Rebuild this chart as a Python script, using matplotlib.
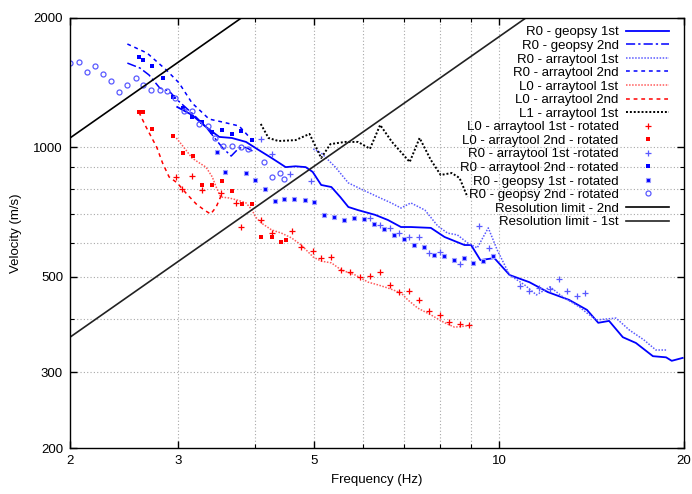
import matplotlib
matplotlib.use("Agg")
import matplotlib.pyplot as plt
import numpy as np

plt.rcParams['font.family'] = ['Liberation Sans', 'DejaVu Sans']

# ---------------- data (frequency Hz, velocity m/s) ----------------
r0_geo1_f = [2.99, 3.16, 3.33, 3.50, 3.67, 3.87, 4.06, 4.26, 4.49, 4.66, 4.84, 4.97, 5.13, 5.33, 5.51, 5.68,
             5.89, 6.28, 6.59, 6.92, 7.18, 7.74, 8.15, 8.78, 9.0, 9.32, 9.82, 10.4, 11.2, 12.0, 13.0, 13.9,
             14.5, 15.1, 15.9, 16.7, 17.8, 18.7, 19.1, 19.9]
r0_geo1_v = [1242, 1190, 1116, 1058, 1052, 1030, 986, 945, 900, 904, 900, 877, 818, 809, 767, 727,
             715, 697, 678, 653, 653, 650, 619, 593, 593, 547, 553, 505, 486, 461, 442, 419,
             391, 395, 362, 351, 327, 325, 319, 324]

r0_geo2_f = [2.48, 2.60, 2.69, 2.80, 2.90, 2.99, 3.16, 3.33, 3.41, 3.54, 3.66, 3.77, 3.87, 3.99]
r0_geo2_v = [1571, 1530, 1474, 1375, 1353, 1290, 1202, 1116, 1069, 1000, 955, 997, 1000, 976]

r0_at1_f = [4.98, 5.13, 5.41, 5.68, 5.96, 6.35, 6.67, 6.92, 7.18, 7.57, 7.94, 8.24, 8.55, 8.88, 9.21, 9.6,
            9.93, 10.4, 11.0, 11.5, 12.1, 12.7, 13.5, 13.9, 14.4, 15.5, 16.3, 17.2, 18.0, 18.7]
r0_at1_v = [992, 971, 900, 827, 800, 767, 743, 723, 743, 715, 657, 632, 626, 600, 584, 650,
            577, 505, 479, 454, 474, 449, 426, 412, 397, 401, 376, 357, 338, 338]

r0_at2_f = [2.48, 2.67, 2.87, 3.01, 3.16, 3.37, 3.54, 3.77, 3.96]
r0_at2_v = [1740, 1658, 1514, 1413, 1269, 1164, 1146, 1122, 1040]

l0_at1_f = [2.98, 3.09, 3.16, 3.25, 3.33, 3.41, 3.46, 3.52, 3.63, 3.74, 3.87, 3.96, 4.01, 4.10, 4.26, 4.42,
            4.59, 4.76, 4.98, 5.13, 5.33, 5.53, 5.83, 6.12, 6.35, 6.59, 6.92, 7.10, 7.37, 7.74, 8.15, 8.46,
            8.78, 8.94]
l0_at1_v = [1052, 986, 945, 920, 900, 854, 809, 767, 763, 755, 743, 715, 689, 667, 643, 632,
            616, 593, 556, 544, 539, 519, 505, 486, 479, 471, 459, 442, 423, 408, 391, 382,
            384, 386]

l0_at2_f = [2.59, 2.66, 2.77, 2.83, 2.90, 2.99, 3.09, 3.21, 3.31, 3.39, 3.46, 3.54]
l0_at2_v = [1208, 1116, 1000, 920, 854, 827, 783, 739, 715, 700, 727, 783]

l1_at1_f = [4.09, 4.21, 4.37, 4.66, 4.91, 5.13, 5.31, 5.61, 5.89, 6.16, 6.40, 6.69, 7.15, 7.42, 7.74, 8.03,
            8.37, 8.62, 8.88]
l1_at1_v = [1134, 1052, 1035, 1040, 1075, 945, 1018, 1030, 1030, 993, 1128, 1030, 925, 1052, 935, 863,
            872, 849, 767]

l0_at1_rot_f = [2.98, 3.16, 3.04, 3.28, 3.52, 3.73, 3.80, 4.10, 4.26, 4.59, 4.76, 4.98, 5.13, 5.33, 5.53,
                5.72, 5.94, 6.16, 6.40, 6.63, 6.88, 7.13, 7.40, 7.70, 8.0, 8.30, 8.62, 8.94]
l0_at1_rot_v = [854, 859, 800, 796, 783, 743, 653, 678, 632, 639, 587, 574, 553, 556, 519,
                513, 500, 503, 513, 479, 461, 464, 442, 417, 408, 393, 388, 386]

l0_at2_rot_f = [2.59, 2.63, 2.72, 2.94, 3.05, 3.17, 3.28, 3.41, 3.54, 3.67, 3.81, 3.96, 4.10, 4.26, 4.42, 4.49]
l0_at2_rot_v = [1208, 1208, 1104, 1063, 971, 955, 818, 818, 836, 792, 739, 739, 619, 619, 603, 609]

r0_at1_rot_f = [4.09, 4.26, 4.57, 4.93, 6.16, 6.40, 6.63, 6.88, 7.13, 7.40, 7.70, 8.0, 8.62, 9.28, 9.64,
                10.8, 11.2, 11.6, 12.1, 12.5, 12.9, 13.4, 13.8]
r0_at1_rot_v = [1046, 966, 867, 836, 685, 660, 650, 632, 619, 619, 568, 571, 536, 657, 584,
                476, 464, 471, 469, 494, 464, 451, 459]

r0_at2_rot_f = [2.59, 2.63, 2.72, 2.83, 2.94, 3.05, 3.16, 3.28, 3.41, 3.54, 3.67, 3.80, 3.96]
r0_at2_rot_v = [1623, 1598, 1546, 1450, 1310, 1235, 1177, 1146, 1087, 1098, 1075, 1092, 1040]

r0_geo1_rot_f = [3.47, 3.58, 3.87, 4.0, 4.15, 4.31, 4.47, 4.64, 4.82, 5.0, 5.19, 5.39, 5.59, 5.81, 6.03,
                 6.25, 6.49, 6.74, 7.0, 7.26, 7.53, 7.82, 8.12, 8.43, 8.75, 9.08, 9.42, 9.78]
r0_geo1_rot_v = [976, 877, 872, 840, 800, 751, 759, 759, 755, 747, 697, 689, 678, 685, 682,
                 664, 646, 626, 612, 593, 587, 562, 559, 547, 553, 539, 544, 559]

r0_geo2_rot_f = [2.0, 2.07, 2.13, 2.20, 2.26, 2.33, 2.40, 2.48, 2.56, 2.63, 2.71, 2.80, 2.88, 2.97, 3.07,
                 3.16, 3.25, 3.35, 3.44, 3.55, 3.67, 3.80, 3.90, 4.14, 4.26, 4.39, 4.47]
r0_geo2_rot_v = [1571, 1580, 1498, 1546, 1482, 1428, 1346, 1398, 1450, 1398, 1360, 1360, 1353, 1303, 1215,
                 1215, 1134, 1122, 1052, 1008, 1008, 1000, 992, 925, 854, 872, 845]

# resolution limits: v = f * wavelength
res_f = [2.0, 20.0]
res_lambda_2nd = 526.0
res_lambda_1st = 181.0

x_major = [2, 3, 5, 10, 20]
x_minor = [4, 6, 7, 8, 9]
x_grid = [3, 4, 5, 6, 7, 8, 9, 10]
y_major = [200, 300, 500, 1000, 2000]
y_minor = [400, 600, 700, 800, 900]
y_grid = [300, 400, 500, 600, 700, 800, 900, 1000]

# ---------------- figure ----------------
fig = plt.figure(figsize=(6.92, 4.94), dpi=100)
ax = fig.add_axes([70/692, 46/494, 614/692, 430/494])
ax.set_xscale('log')
ax.set_yscale('log')
ax.set_xlim(2, 20)
ax.set_ylim(200, 2000)

for g in x_grid:
    ax.axvline(g, color='#a8a8a8', lw=0.8, ls=(0, (1, 2)), zorder=0)
for g in y_grid:
    ax.axhline(g, color='#a8a8a8', lw=0.8, ls=(0, (1, 2)), zorder=0)

blue = '#0000ff'
lblue = '#5a5aff'
red = '#ff0000'
lred = '#ff5a5a'

h = []
h += ax.plot(r0_geo1_f, r0_geo1_v, color=blue, lw=1.3, label='R0 - geopsy 1st')
h += ax.plot(r0_geo2_f, r0_geo2_v, color=blue, lw=1.1, ls=(0, (6, 2, 1.5, 2)), label='R0 - geopsy 2nd')
h += ax.plot(r0_at1_f, r0_at1_v, color=lblue, lw=1.1, ls=(0, (1, 1)), label='R0 - arraytool 1st')
h += ax.plot(r0_at2_f, r0_at2_v, color=blue, lw=1.1, ls=(0, (2.5, 2.5)), label='R0 - arraytool 2nd')
h += ax.plot(l0_at1_f, l0_at1_v, color=lred, lw=1.1, ls=(0, (1, 1)), label='L0 - arraytool 1st')
h += ax.plot(l0_at2_f, l0_at2_v, color=red, lw=1.1, ls=(0, (2.5, 2.5)), label='L0 - arraytool 2nd')
h += ax.plot(l1_at1_f, l1_at1_v, color='black', lw=1.4, ls=(0, (1, 1)), label='L1 - arraytool 1st')
h += ax.plot(l0_at1_rot_f, l0_at1_rot_v, ls='none', marker='+', ms=4, mew=0.9, color=red,
             label='L0 - arraytool 1st - rotated')
h += ax.plot(l0_at2_rot_f, l0_at2_rot_v, ls='none', marker='s', ms=3.3, mew=0, color=red,
             label='L0 - arraytool 2nd - rotated')
h += ax.plot(r0_at1_rot_f, r0_at1_rot_v, ls='none', marker='+', ms=4, mew=0.9, color=lblue,
             label='R0 - arraytool 1st -rotated')
h += ax.plot(r0_at2_rot_f, r0_at2_rot_v, ls='none', marker='s', ms=3.3, mew=0, color=blue,
             label='R0 - arraytool 2nd - rotated')
h += ax.plot(r0_geo1_rot_f, r0_geo1_rot_v, ls='none', marker='s', ms=3.3, mew=0.8, color=blue,
             mec='#a0a0ff', label='R0 - geopsy 1st - rotated')
h += ax.plot(r0_geo2_rot_f, r0_geo2_rot_v, ls='none', marker='o', ms=3.6, mew=0.9, mfc='none',
             mec=lblue, label='R0 - geopsy 2nd - rotated')
res_f_arr = np.array(res_f)
h += ax.plot(res_f_arr, res_f_arr * res_lambda_2nd, color='black', lw=1.2, label='Resolution limit - 2nd')
h += ax.plot(res_f_arr, res_f_arr * res_lambda_1st, color='#222222', lw=1.2, label='Resolution limit - 1st')

# ticks
ax.set_xticks(x_major)
ax.set_xticklabels([str(v) for v in x_major])
ax.set_xticks(x_minor, minor=True)
ax.set_xticklabels([], minor=True)
ax.set_yticks(y_major)
ax.set_yticklabels([str(v) for v in y_major])
ax.set_yticks(y_minor, minor=True)
ax.set_yticklabels([], minor=True)
ax.tick_params(which='major', direction='in', length=5, width=1, top=True, right=True, labelsize=9.5, pad=5)
ax.tick_params(which='minor', direction='in', length=3, width=0.8, top=True, right=True)
for s in ax.spines.values():
    s.set_linewidth(1.0)

ax.set_xlabel('Frequency (Hz)', fontsize=9.5, labelpad=5)
ax.set_ylabel('Velocity (m/s)', fontsize=9.5, labelpad=8)

leg = ax.legend(handles=h, loc='upper right', bbox_to_anchor=(0.975, 0.981), markerfirst=False,
                frameon=False, fontsize=9.5, handlelength=3.2, handletextpad=0.6, labelspacing=0.1,
                borderaxespad=0, borderpad=0)

fig.savefig('out.png', dpi=100)
